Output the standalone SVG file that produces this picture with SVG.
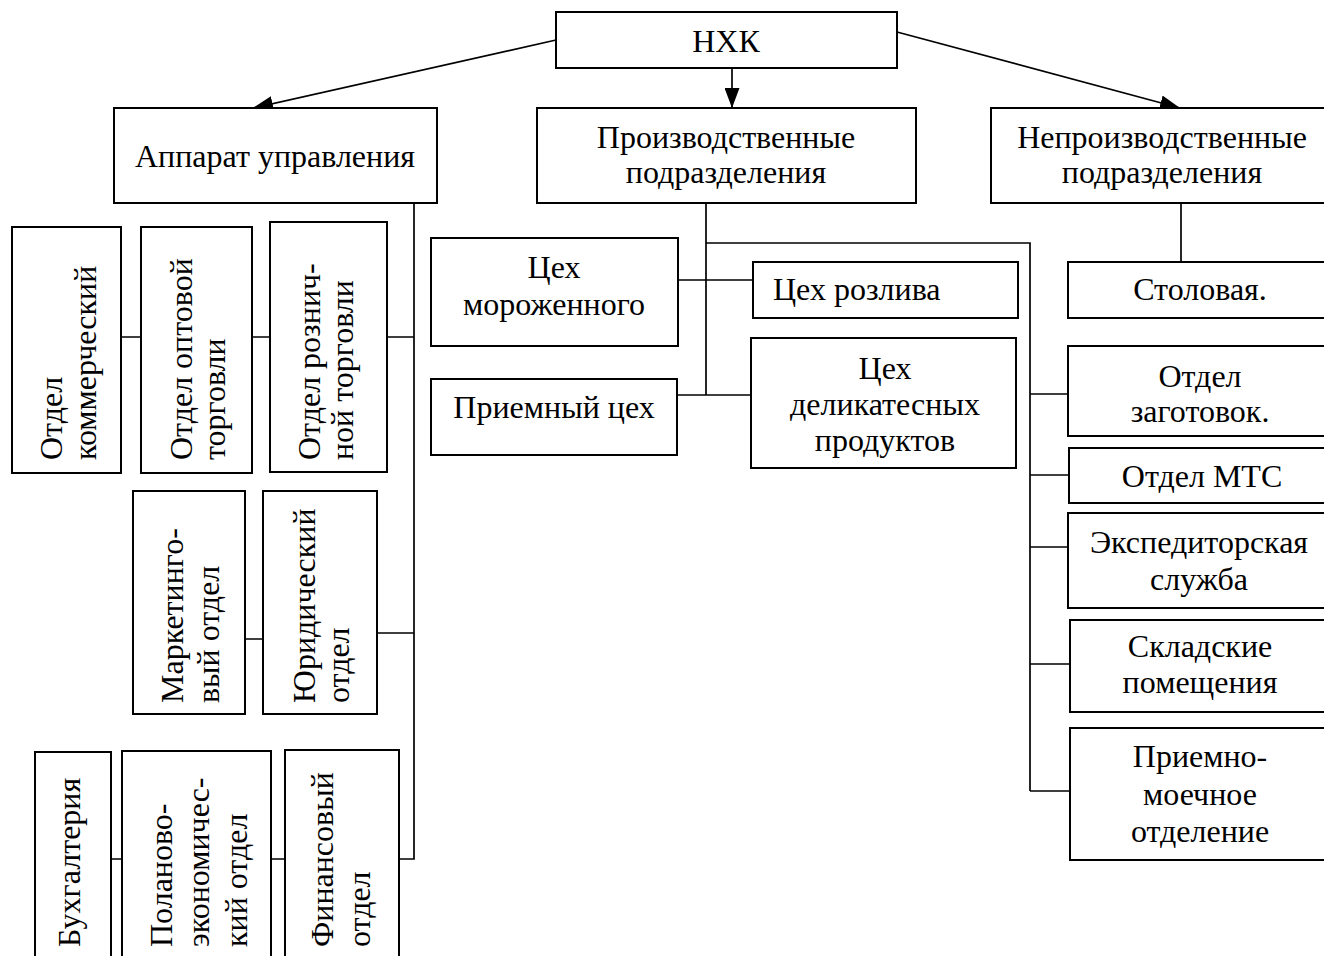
<svg xmlns="http://www.w3.org/2000/svg" width="1324" height="956" viewBox="0 0 1324 956">
<defs>
<marker id="ah" viewBox="0 0 20 15" refX="20" refY="7.5" markerWidth="20" markerHeight="15" markerUnits="userSpaceOnUse" orient="auto">
<path d="M0,0 L20,7.5 L0,15 Z" fill="#000"/>
</marker>
<style>
.b{fill:#fff;stroke:#000;stroke-width:2}
.l{fill:none;stroke:#000;stroke-width:1.7}
text{font-family:"Liberation Serif","Times New Roman",serif;font-size:32px;fill:#000}
.c{text-anchor:middle}
</style>
</defs>
<rect width="1324" height="956" fill="#fff"/>
<g id="connectors">
<path class="l" d="M556,40 L253,108" marker-end="url(#ah)"/>
<path class="l" d="M732,68 L732,108" marker-end="url(#ah)"/>
<path class="l" d="M897,32 L1180,108" marker-end="url(#ah)"/>
<path class="l" d="M414,203 V859 H399"/>
<path class="l" d="M121,337 H141 M252,337 H270 M387,337 H414"/>
<path class="l" d="M245,639 H263 M377,633 H414"/>
<path class="l" d="M111,859 H122 M271,859 H285"/>
<path class="l" d="M706,203 V395 M706,243 H1030 V791"/>
<path class="l" d="M678,280 H753 M677,395 H751"/>
<path class="l" d="M1181,203 V262"/>
<path class="l" d="M1030,394 H1068 M1030,475 H1069 M1030,547 H1068 M1030,664 H1070 M1030,791 H1070"/>
</g>
<g id="nhk"><rect class="b" x="556" y="12" width="341" height="56"/><text class="c" x="726" y="52">НХК</text></g>
<g id="apparat"><rect class="b" x="114" y="108" width="323" height="95"/><text class="c" x="275" y="167">Аппарат управления</text></g>
<g id="proizv"><rect class="b" x="537" y="108" width="379" height="95"/><text class="c" x="726" y="148">Производственные</text><text class="c" x="726" y="183">подразделения</text></g>
<g id="neproizv"><rect class="b" x="991" y="108" width="345" height="95"/><text class="c" x="1162" y="148">Непроизводственные</text><text class="c" x="1162" y="183">подразделения</text></g>
<g id="kommerch"><rect class="b" x="12" y="227" width="109" height="246"/><text transform="translate(62,460) rotate(-90)">Отдел</text><text transform="translate(96,460) rotate(-90)">коммерческий</text></g>
<g id="optov"><rect class="b" x="141" y="227" width="111" height="246"/><text transform="translate(192,460) rotate(-90)">Отдел оптовой</text><text transform="translate(225,460) rotate(-90)">торговли</text></g>
<g id="rozn"><rect class="b" x="270" y="222" width="117" height="250"/><text transform="translate(320,460) rotate(-90)">Отдел рознич-</text><text transform="translate(353,460) rotate(-90)">ной торговли</text></g>
<g id="market"><rect class="b" x="133" y="491" width="112" height="223"/><text transform="translate(183,703) rotate(-90)">Маркетинго-</text><text transform="translate(219,703) rotate(-90)">вый отдел</text></g>
<g id="yurid"><rect class="b" x="263" y="491" width="114" height="223"/><text transform="translate(315,703) rotate(-90)">Юридический</text><text transform="translate(349,703) rotate(-90)">отдел</text></g>
<g id="buh"><rect class="b" x="35" y="752" width="76" height="220"/><text transform="translate(80,947) rotate(-90)">Бухгалтерия</text></g>
<g id="planek"><rect class="b" x="122" y="751" width="149" height="220"/><text transform="translate(172,947) rotate(-90)">Поланово-</text><text transform="translate(209,947) rotate(-90)">экономичес-</text><text transform="translate(247,947) rotate(-90)">кий отдел</text></g>
<g id="finans"><rect class="b" x="285" y="750" width="114" height="220"/><text transform="translate(333,947) rotate(-90)">Финансовый</text><text transform="translate(370,947) rotate(-90)">отдел</text></g>
<g id="moroz"><rect class="b" x="431" y="238" width="247" height="108"/><text class="c" x="554" y="278">Цех</text><text class="c" x="554" y="315">мороженного</text></g>
<g id="priem"><rect class="b" x="431" y="379" width="246" height="76"/><text class="c" x="554" y="418">Приемный цех</text></g>
<g id="rozliv"><rect class="b" x="753" y="262" width="265" height="56"/><text x="773" y="300">Цех розлива</text></g>
<g id="delik"><rect class="b" x="751" y="338" width="265" height="130"/><text class="c" x="885" y="379">Цех</text><text class="c" x="885" y="415">деликатесных</text><text class="c" x="885" y="451">продуктов</text></g>
<g id="stol"><rect class="b" x="1068" y="262" width="270" height="56"/><text class="c" x="1200" y="300">Столовая.</text></g>
<g id="zagot"><rect class="b" x="1068" y="346" width="270" height="90"/><text class="c" x="1200" y="387">Отдел</text><text class="c" x="1200" y="422">заготовок.</text></g>
<g id="mts"><rect class="b" x="1069" y="448" width="270" height="55"/><text class="c" x="1202" y="487">Отдел МТС</text></g>
<g id="exped"><rect class="b" x="1068" y="513" width="270" height="95"/><text class="c" x="1199" y="553">Экспедиторская</text><text class="c" x="1199" y="590">служба</text></g>
<g id="sklad"><rect class="b" x="1070" y="620" width="270" height="92"/><text class="c" x="1200" y="657">Складские</text><text class="c" x="1200" y="693">помещения</text></g>
<g id="moech"><rect class="b" x="1070" y="728" width="270" height="132"/><text class="c" x="1200" y="767">Приемно-</text><text class="c" x="1200" y="805">моечное</text><text class="c" x="1200" y="842">отделение</text></g>
</svg>
